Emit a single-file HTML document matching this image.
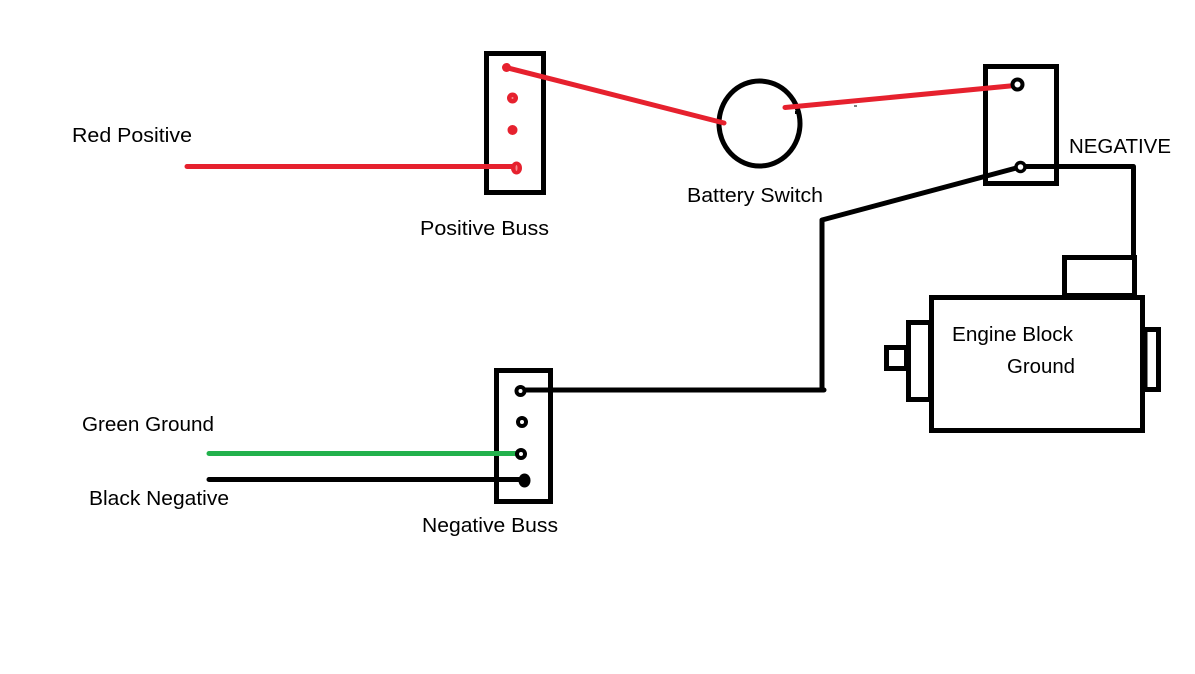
<!DOCTYPE html>
<html>
<head>
<meta charset="utf-8">
<style>
html,body{margin:0;padding:0;background:#fff;width:1195px;height:674px;overflow:hidden}
svg{display:block}
text{font-family:"Liberation Sans",Arial,sans-serif;font-size:20px;fill:#000}
</style>
</head>
<body>
<svg width="1195" height="674" viewBox="0 0 1195 674" xmlns="http://www.w3.org/2000/svg">
<rect width="1195" height="674" fill="#fff"/>
<g fill="none" stroke="#000" stroke-width="5">
  <rect x="486.500" y="53.500" width="57" height="139"/>
  <ellipse cx="759.500" cy="123.500" rx="40.500" ry="42.500"/>
  <rect x="985.500" y="66.500" width="71" height="117"/>
  <rect x="931.500" y="297.500" width="211" height="133"/>
  <rect x="1064.500" y="257.500" width="70" height="38"/>
  <rect x="908.500" y="322.500" width="22" height="77"/>
  <rect x="886.500" y="347.500" width="20" height="21"/>
  <rect x="1145" y="329.500" width="13.500" height="60"/>
  <rect x="496.500" y="370.500" width="54" height="131"/>
</g>
<g fill="none" stroke="#000" stroke-width="5" stroke-linecap="round" stroke-linejoin="round">
  <polyline points="1020,167 822,220 822,390"/>
  <polyline points="1020,166.500 1133.500,166.500 1133.500,258"/>
  <line x1="521" y1="390" x2="824" y2="390"/>
  <line x1="209" y1="479.500" x2="524" y2="479.500"/>
</g>
<g fill="none" stroke="#e6212e" stroke-width="5" stroke-linecap="round">
  <line x1="187" y1="166.500" x2="516" y2="166.500"/>
  <line x1="506" y1="67.500" x2="724" y2="123"/>
  <line x1="785" y1="107.500" x2="1015" y2="85.500"/>
</g>
<line x1="209" y1="453.500" x2="518" y2="453.500" stroke="#22b14c" stroke-width="5" stroke-linecap="round"/>
<circle cx="506.500" cy="67.500" r="4.500" fill="#e6212e"/>
<circle cx="512.500" cy="98" r="5.500" fill="#e6212e"/>
<circle cx="512.500" cy="98" r="1" fill="#f58a8e"/>
<circle cx="512.500" cy="130" r="5" fill="#e6212e"/>
<ellipse cx="516.500" cy="168" rx="5.500" ry="6.500" fill="#e6212e"/>
<ellipse cx="516.500" cy="168" rx="1" ry="3" fill="#f58a8e"/>
<circle cx="1017.500" cy="84.500" r="5" fill="#fff" stroke="#000" stroke-width="4"/>
<circle cx="1020.500" cy="167" r="4.500" fill="#fff" stroke="#000" stroke-width="3.500"/>
<circle cx="520.500" cy="391" r="4" fill="#fff" stroke="#000" stroke-width="4"/>
<circle cx="522" cy="422" r="4" fill="#fff" stroke="#000" stroke-width="4"/>
<circle cx="521" cy="454" r="4" fill="#fff" stroke="#000" stroke-width="4"/>
<ellipse cx="524.500" cy="480.500" rx="6" ry="7" fill="#000"/>
<rect x="795" y="111" width="3" height="3" fill="#000"/>
<rect x="854" y="105.500" width="3" height="1" fill="#000"/>
<text x="72" y="142" textLength="120" lengthAdjust="spacingAndGlyphs">Red Positive</text>
<text x="420" y="235" textLength="129" lengthAdjust="spacingAndGlyphs">Positive Buss</text>
<text x="687" y="202" textLength="136" lengthAdjust="spacingAndGlyphs">Battery Switch</text>
<text x="1069" y="153" textLength="102" lengthAdjust="spacingAndGlyphs">NEGATIVE</text>
<text x="952" y="341" textLength="121" lengthAdjust="spacingAndGlyphs">Engine Block</text>
<text x="1007" y="373" textLength="68" lengthAdjust="spacingAndGlyphs">Ground</text>
<text x="82" y="431" textLength="132" lengthAdjust="spacingAndGlyphs">Green Ground</text>
<text x="89" y="505" textLength="140" lengthAdjust="spacingAndGlyphs">Black Negative</text>
<text x="422" y="532" textLength="136" lengthAdjust="spacingAndGlyphs">Negative Buss</text>
</svg>
</body>
</html>
